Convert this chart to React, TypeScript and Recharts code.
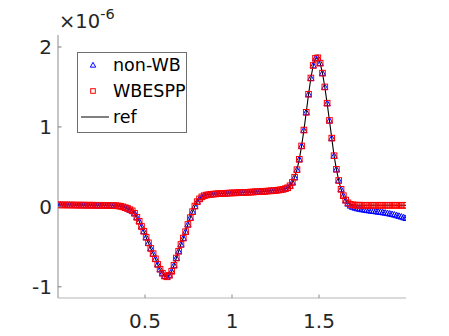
import React from 'react';
import { ComposedChart, Line, XAxis, YAxis, Legend } from 'recharts';

// sample grid: x from 0 to 2, 151 samples
const X_STEP = 2 / 150;
const xTicks = [0.5, 1, 1.5];
const yTicks = [-1, 0, 1, 2];
const exponentBase = '\u00d710';
const exponentPower = '-6';
const seriesNames = ['non-WB', 'WBESPP', 'ref'];

// values in units of 1e-6
const refValues = [
  0.025, 0.025, 0.024, 0.024, 0.024, 0.023, 0.023, 0.023, 0.022, 0.022,
  0.022, 0.022, 0.021, 0.021, 0.021, 0.021, 0.02, 0.02, 0.02, 0.02,
  0.019, 0.019, 0.018, 0.017, 0.016, 0.014, 0.012, 0.008, 0.0, -0.01,
  -0.02, -0.035, -0.05, -0.08, -0.13, -0.18, -0.245, -0.305, -0.38, -0.45,
  -0.52, -0.585, -0.65, -0.72, -0.78, -0.83, -0.865, -0.875, -0.855, -0.805,
  -0.73, -0.64, -0.555, -0.47, -0.39, -0.31, -0.22, -0.135, -0.06, 0.01,
  0.065, 0.1, 0.125, 0.14, 0.148, 0.153, 0.157, 0.16, 0.162, 0.165,
  0.167, 0.168, 0.17, 0.171, 0.173, 0.174, 0.175, 0.176, 0.178, 0.179,
  0.18, 0.182, 0.183, 0.185, 0.186, 0.188, 0.19, 0.191, 0.193, 0.195,
  0.197, 0.199, 0.201, 0.204, 0.207, 0.21, 0.214, 0.22, 0.228, 0.239,
  0.264, 0.306, 0.371, 0.465, 0.595, 0.762, 0.961, 1.183, 1.409, 1.612,
  1.769, 1.858, 1.865, 1.798, 1.673, 1.5, 1.297, 1.081, 0.86, 0.64,
  0.47, 0.33, 0.22, 0.14, 0.085, 0.05, 0.032, 0.025, 0.022, 0.021,
  0.021, 0.02, 0.02, 0.02, 0.02, 0.02, 0.02, 0.02, 0.02, 0.02,
  0.02, 0.02, 0.02, 0.02, 0.02, 0.02, 0.02, 0.02, 0.02, 0.02,
  0.02,
];

const wbesppValues = [
  0.025, 0.025, 0.024, 0.024, 0.024, 0.023, 0.023, 0.023, 0.022, 0.022,
  0.022, 0.022, 0.021, 0.021, 0.021, 0.021, 0.02, 0.02, 0.02, 0.02,
  0.019, 0.019, 0.018, 0.017, 0.016, 0.014, 0.012, 0.008, 0.0, -0.01,
  -0.02, -0.035, -0.05, -0.08, -0.13, -0.18, -0.245, -0.305, -0.38, -0.45,
  -0.52, -0.585, -0.65, -0.72, -0.78, -0.83, -0.865, -0.875, -0.855, -0.805,
  -0.73, -0.64, -0.555, -0.47, -0.39, -0.31, -0.22, -0.135, -0.06, 0.01,
  0.065, 0.1, 0.125, 0.14, 0.148, 0.153, 0.157, 0.16, 0.162, 0.165,
  0.167, 0.168, 0.17, 0.171, 0.173, 0.174, 0.175, 0.176, 0.178, 0.179,
  0.18, 0.182, 0.183, 0.185, 0.186, 0.188, 0.19, 0.191, 0.193, 0.195,
  0.197, 0.199, 0.201, 0.204, 0.207, 0.21, 0.214, 0.22, 0.228, 0.239,
  0.264, 0.306, 0.371, 0.465, 0.595, 0.762, 0.961, 1.183, 1.409, 1.612,
  1.769, 1.858, 1.865, 1.798, 1.673, 1.5, 1.297, 1.081, 0.86, 0.64,
  0.47, 0.33, 0.22, 0.14, 0.085, 0.05, 0.032, 0.025, 0.022, 0.021,
  0.021, 0.02, 0.02, 0.02, 0.02, 0.02, 0.02, 0.02, 0.02, 0.02,
  0.02, 0.02, 0.02, 0.02, 0.02, 0.02, 0.02, 0.02, 0.02, 0.02,
  0.02,
];

// non-WB follows ref until the right tail, where it drifts downward
const NONWB_TAIL_START = 124;
const nonWBTail = [
  0.08, 0.04, 0.015, 0.0, -0.01, -0.018, -0.024, -0.03, -0.035, -0.04,
  -0.044, -0.048, -0.052, -0.056, -0.06, -0.064, -0.068, -0.073, -0.078, -0.084,
  -0.09, -0.097, -0.105, -0.113, -0.122, -0.131, -0.14,
];
const nonWBValues = [...refValues.slice(0, NONWB_TAIL_START), ...nonWBTail];

const data = refValues.map((v, i) => ({
  x: i * X_STEP,
  nonWB: nonWBValues[i],
  wbespp: wbesppValues[i],
  ref: v,
}));

const FONT = '"DejaVu Sans", Verdana, sans-serif';
const TEXT_COLOR = '#262626';
const BLUE = '#0000ff';
const RED = '#ff0000';
const TICK_FONT = 20;
const TRI_R = 3.1;
const SQ_H = 2.8;

const triPath = (cx: number, cy: number, r: number) =>
  `M${cx},${cy - r} L${cx + r},${cy + r * 0.8} L${cx - r},${cy + r * 0.8} Z`;

const TriangleDot = (p: any) => {
  const { cx, cy, index } = p;
  if (cx == null || cy == null || isNaN(cy)) return <g key={`t${index}`} />;
  return <path key={`t${index}`} d={triPath(cx, cy, TRI_R)} fill="none" stroke={BLUE} strokeWidth={1} />;
};

const SquareDot = (p: any) => {
  const { cx, cy, index } = p;
  if (cx == null || cy == null || isNaN(cy)) return <g key={`s${index}`} />;
  return (
    <rect key={`s${index}`} x={cx - SQ_H} y={cy - SQ_H} width={2 * SQ_H} height={2 * SQ_H}
      fill="none" stroke={RED} strokeWidth={1} />
  );
};

const YTick = (p: any) => {
  const { x, y, payload } = p;
  return (
    <g>
      <line x1={x} x2={x + 3.5} y1={y} y2={y} stroke="#7a7a7a" strokeWidth={1} />
      <text x={x - 6} y={y} dy="0.36em" textAnchor="end" fontSize={TICK_FONT} fontFamily={FONT} fill={TEXT_COLOR}>
        {payload.value}
      </text>
    </g>
  );
};

const XTick = (p: any) => {
  const { x, y, payload } = p;
  return (
    <g>
      <line x1={x} x2={x} y1={y} y2={y - 3.5} stroke="#8a8a8a" strokeWidth={1} />
      <text x={x} y={y + 30} textAnchor="middle" fontSize={TICK_FONT} fontFamily={FONT} fill={TEXT_COLOR}>
        {payload.value}
      </text>
    </g>
  );
};

const ExponentLabel = (p: any) => {
  const vb = p.viewBox || { x: 0, y: 35, width: 58 };
  const x = vb.x + vb.width + 1;
  const y = vb.y - 7;
  return (
    <text x={x} y={y} fontSize={19.5} fontFamily={FONT} fill={TEXT_COLOR}>
      {exponentBase}
      <tspan fontSize={14.5} dy={-9}>{exponentPower}</tspan>
    </text>
  );
};

const LegendBox = () => (
  <svg width={110} height={81} style={{ display: 'block' }}>
    <rect x={0.5} y={0.5} width={109} height={80} fill="#ffffff" stroke="#6e6e6e" strokeWidth={1} />
    <path d={triPath(16, 13, 2.7)} fill="none" stroke={BLUE} strokeWidth={1} />
    <rect x={16 - 2.3} y={39 - 2.3} width={4.6} height={4.6} fill="none" stroke={RED} strokeWidth={1} />
    <line x1={4} x2={32} y1={65} y2={65} stroke="#000" strokeWidth={1} />
    {seriesNames.map((n, i) => (
      <text key={n} x={36} y={13 + i * 26} dy="0.36em" fontSize={17.5} fontFamily={FONT} fill="#000">
        {n}
      </text>
    ))}
  </svg>
);

export default function App() {
  return (
    <div style={{ position: 'absolute', left: 0, top: 0, width: 449, height: 336, background: '#fff' }}>
      <ComposedChart
        width={449}
        height={336}
        data={data}
        margin={{ top: 35, right: 43, bottom: 0, left: 0 }}
      >
        <XAxis
          dataKey="x"
          type="number"
          domain={[0, 2]}
          ticks={xTicks}
          height={38}
          tickSize={0}
          tickMargin={0}
          tickLine={false}
          tick={<XTick />}
          axisLine={{ stroke: '#b5b5b5', strokeWidth: 1 }}
          allowDataOverflow
        />
        <YAxis
          type="number"
          domain={[-1.14, 2.15]}
          ticks={yTicks}
          width={58}
          tickSize={0}
          tickMargin={0}
          tickLine={false}
          tick={<YTick />}
          axisLine={{ stroke: '#8c8c8c', strokeWidth: 1 }}
          allowDataOverflow
          label={{ content: ExponentLabel }}
        />
        <Legend
          layout="vertical"
          align="center"
          verticalAlign="middle"
          content={LegendBox}
          wrapperStyle={{ left: 77, top: 52, width: 110, height: 81 }}
        />
        <Line
          dataKey="nonWB"
          type="linear"
          stroke="none"
          dot={TriangleDot}
          activeDot={false}
          isAnimationActive={false}
        />
        <Line
          dataKey="wbespp"
          type="linear"
          stroke="none"
          dot={SquareDot}
          activeDot={false}
          isAnimationActive={false}
        />
        <Line
          dataKey="ref"
          type="linear"
          stroke="#000000"
          strokeWidth={1.1}
          dot={false}
          activeDot={false}
          isAnimationActive={false}
        />
      </ComposedChart>
    </div>
  );
}
